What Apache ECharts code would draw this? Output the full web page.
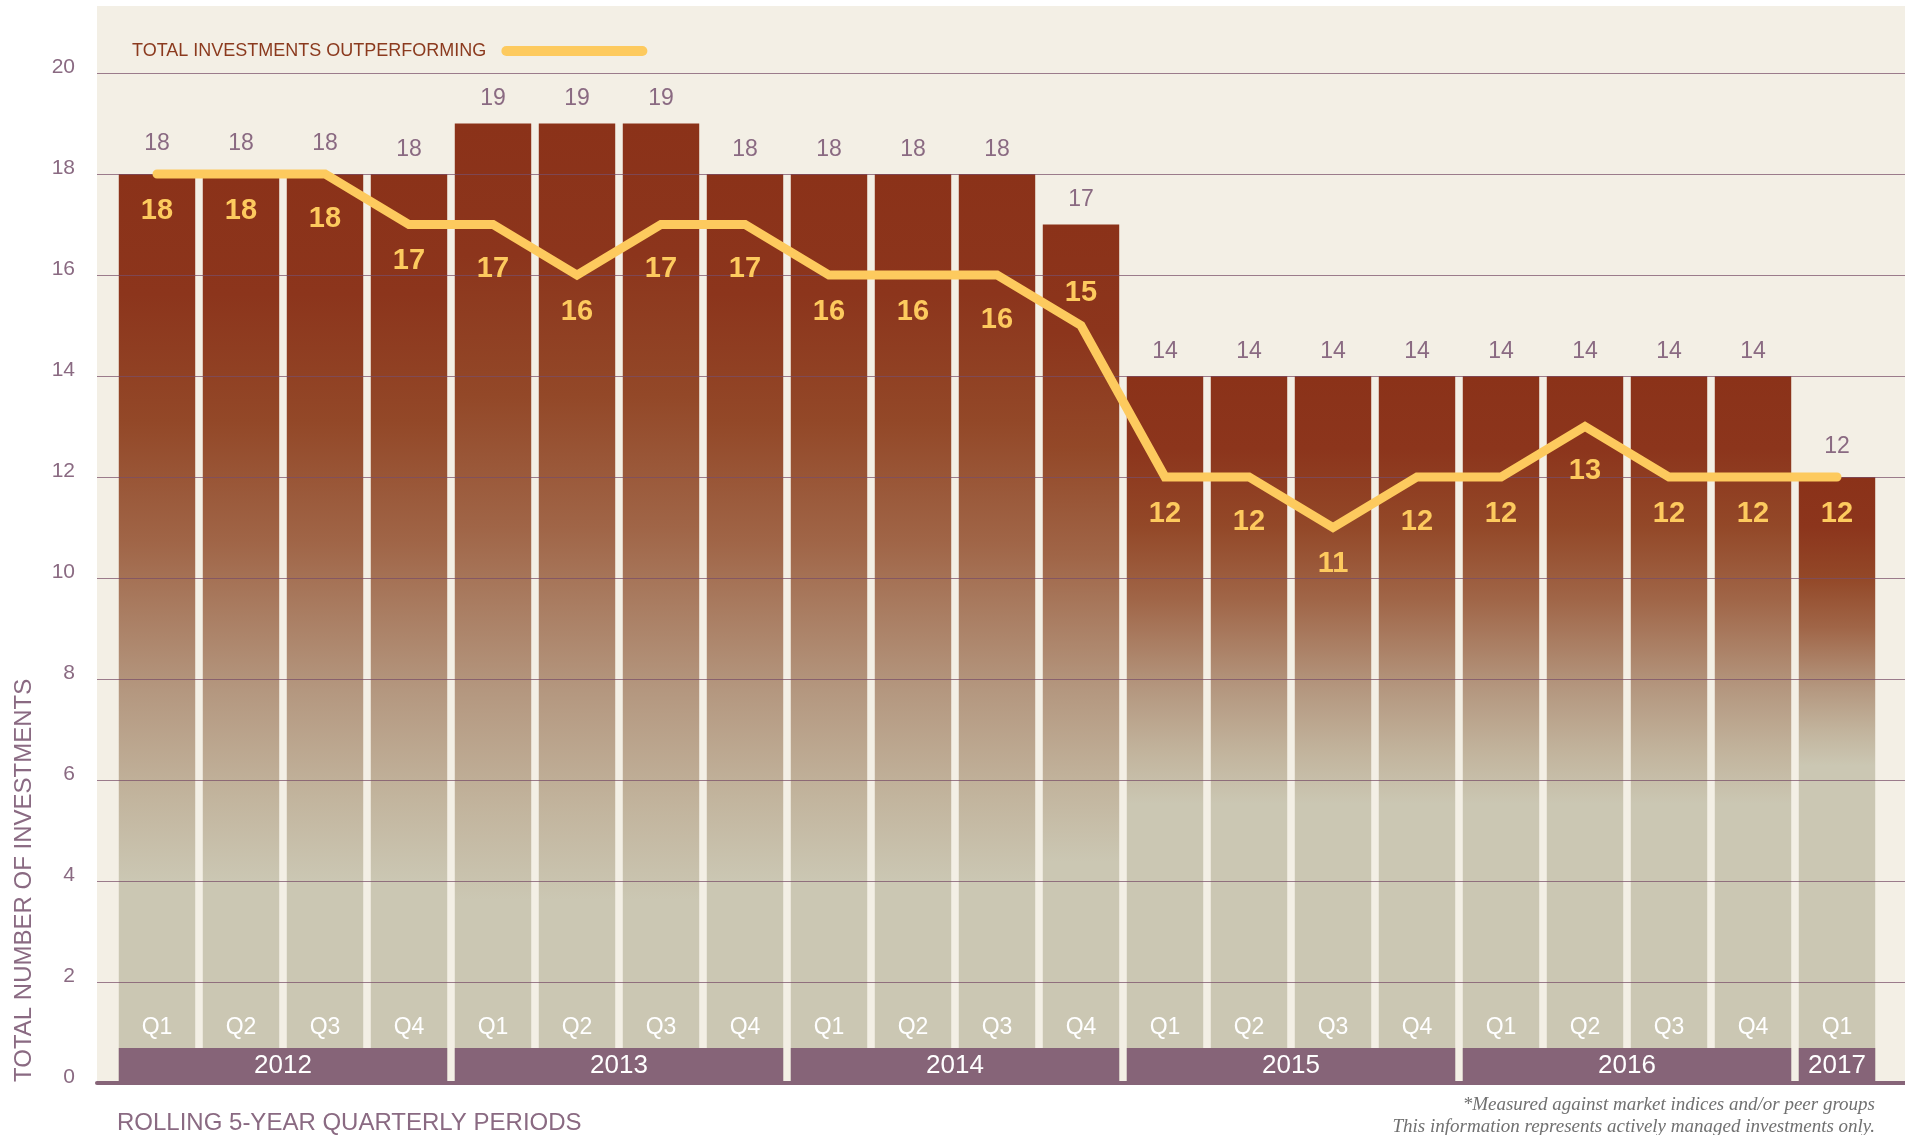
<!DOCTYPE html>
<html>
<head>
<meta charset="utf-8">
<script src="https://cdn.jsdelivr.net/npm/echarts@6/dist/echarts.min.js"></script>
<style>
html,body{margin:0;padding:0;background:#ffffff;}
#chart{width:1905px;height:1135px;}
</style>
</head>
<body>
<div id="chart"></div>
<script>
// ---------------- DATA ----------------
const quarterLabels = ['Q1','Q2','Q3','Q4','Q1','Q2','Q3','Q4','Q1','Q2','Q3','Q4','Q1','Q2','Q3','Q4','Q1','Q2','Q3','Q4','Q1'];
const periodYears = ['2012','2012','2012','2012','2013','2013','2013','2013','2014','2014','2014','2014','2015','2015','2015','2015','2016','2016','2016','2016','2017'];
const totalInvestments = [18,18,18,18,19,19,19,18,18,18,18,17,14,14,14,14,14,14,14,14,12];
const outperforming = [18,18,18,17,17,16,17,17,16,16,16,15,12,12,11,12,12,13,12,12,12];
const yAxisMin = 0;
const yAxisMax = 20;
const yAxisInterval = 2;

const seriesLineName = 'TOTAL INVESTMENTS OUTPERFORMING';
const yAxisTitle = 'TOTAL NUMBER OF INVESTMENTS';
const xAxisTitle = 'ROLLING 5-YEAR QUARTERLY PERIODS';
const footnote1 = '*Measured against market indices and/or peer groups';
const footnote2 = 'This information represents actively managed investments only.';

// ---------------- STYLE ----------------
const FONT = '"Liberation Sans", Arial, Helvetica, sans-serif';
const SERIF = '"Liberation Serif", "DejaVu Serif", serif';
const MAUVE = '#8a6a82';
const PURPLE = '#866478';
const CREAM = '#f3efe5';
const YELLOW = '#fdca5e';
const RUST_TEXT = '#8b3a1e';
const BEIGE = '#cbc7b3';
const GAP_RATIO = 0.09;

function barGradient(v) {
  const beigeAt = 4 + 0.38 * (18 - v);
  const span = (v - beigeAt) / v;
  const stops = [
    [0, '#8b3219'], [0.17, '#8c351c'], [0.35, '#934828'], [0.52, '#a06547'],
    [0.73, '#b4977f'], [0.88, '#c2b49d'], [1, BEIGE]
  ];
  const cs = stops.map(s => ({ offset: s[0] * span, color: s[1] }));
  cs.push({ offset: 1, color: BEIGE });
  return new echarts.graphic.LinearGradient(0, 0, 0, 1, cs);
}

function lineLabel(i) {
  const v = outperforming[i];
  const prev = i > 0 ? outperforming[i - 1] : v;
  const next = i < outperforming.length - 1 ? outperforming[i + 1] : v;
  if (next <= v - 2) return { position: 'top', distance: 17 };
  if (prev < v || next < v) return { position: 'bottom', distance: 29 };
  return { position: 'bottom', distance: 21 };
}

// year groups from periodYears
const yearGroups = [];
periodYears.forEach((y, i) => {
  const g = yearGroups[yearGroups.length - 1];
  if (g && g.year === y) g.end = i; else yearGroups.push({ start: i, end: i, year: y });
});

const chart = echarts.init(document.getElementById('chart'), null, { renderer: 'canvas' });

const option = {
  animation: false,
  backgroundColor: '#ffffff',
  textStyle: { fontFamily: FONT },
  graphic: {
    elements: [
      { type: 'rect', z: -100, silent: true, shape: { x: 97, y: 6, width: 1808, height: 1077 }, style: { fill: CREAM } },
      { type: 'text', silent: true, x: 24, y: 1082, rotation: Math.PI / 2,
        style: { text: yAxisTitle, fill: MAUVE, fontSize: 24, fontFamily: FONT, align: 'left', verticalAlign: 'middle' } },
      { type: 'text', silent: true, x: 117, y: 1123,
        style: { text: xAxisTitle, fill: MAUVE, fontSize: 24, fontFamily: FONT, align: 'left', verticalAlign: 'middle' } },
      { type: 'text', silent: true, x: 1875, y: 1105,
        style: { text: footnote1, fill: '#707070', fontSize: 19, fontStyle: 'italic', fontFamily: SERIF, align: 'right', verticalAlign: 'middle' } },
      { type: 'text', silent: true, x: 1875, y: 1127,
        style: { text: footnote2, fill: '#707070', fontSize: 19, fontStyle: 'italic', fontFamily: SERIF, align: 'right', verticalAlign: 'middle' } }
    ]
  },
  legend: {
    data: [{ name: seriesLineName, icon: 'path://M5 0 L141 0 A5 5 0 0 1 141 10 L5 10 A5 5 0 0 1 5 0 Z' }],
    left: 127,
    top: 37,
    align: 'right',
    itemWidth: 146,
    itemHeight: 10,
    selectedMode: false,
    textStyle: { color: RUST_TEXT, fontSize: 18, fontFamily: FONT, padding: [0, 10, 0, 0] }
  },
  grid: [
    { left: 115, right: 26, top: 73, bottom: 52 },
    { left: 97, right: 0, top: 73, bottom: 52 }
  ],
  xAxis: [
    {
      type: 'category', gridIndex: 0, data: quarterLabels, z: 5,
      axisLine: { show: false }, axisTick: { show: false }, splitLine: { show: false },
      axisLabel: { inside: true, margin: 44, color: '#ffffff', fontSize: 23, fontFamily: FONT }
    },
    {
      type: 'value', gridIndex: 1, min: 0, max: 1, z: 4,
      axisLabel: { show: false }, axisTick: { show: false }, splitLine: { show: false },
      axisLine: { show: true, lineStyle: { color: PURPLE, width: 4 } }
    }
  ],
  yAxis: [
    {
      type: 'value', gridIndex: 0, min: yAxisMin, max: yAxisMax, interval: yAxisInterval, show: false
    },
    {
      type: 'value', gridIndex: 1, min: yAxisMin, max: yAxisMax, interval: yAxisInterval, z: 3,
      axisLine: { show: false }, axisTick: { show: false },
      axisLabel: { color: MAUVE, fontSize: 21, margin: 22, fontFamily: FONT, verticalAlign: 'bottom', lineHeight: 12 },
      splitLine: { show: true, lineStyle: { color: 'rgba(120,78,104,0.72)', width: 1 } }
    }
  ],
  series: [
    {
      type: 'bar',
      name: yAxisTitle,
      xAxisIndex: 0, yAxisIndex: 0,
      barCategoryGap: (GAP_RATIO * 100) + '%',
      z: 2,
      data: totalInvestments.map((v, i) => ({
        value: v,
        itemStyle: { color: barGradient(v) },
        label: { distance: outperforming[i] === v ? 19 : 13 }
      })),
      label: { show: true, position: 'top', color: MAUVE, fontSize: 23, fontFamily: FONT }
    },
    {
      type: 'custom',
      name: 'years',
      xAxisIndex: 0, yAxisIndex: 0,
      z: 4,
      silent: true,
      data: yearGroups.map(g => [g.start, g.end]),
      renderItem: function (params, api) {
        const g = yearGroups[params.dataIndex];
        const p0 = api.coord([g.start, 0]);
        const p1 = api.coord([g.end, 0]);
        const bw = api.size([1, 0])[0] * (1 - GAP_RATIO);
        const x0 = p0[0] - bw / 2;
        const x1 = p1[0] + bw / 2;
        const yb = p0[1] - 2;
        return {
          type: 'group',
          children: [
            { type: 'rect', shape: { x: x0, y: yb - 33, width: x1 - x0, height: 33 }, style: { fill: PURPLE } },
            { type: 'text', x: (x0 + x1) / 2, y: yb - 15,
              style: { text: g.year, fill: '#ffffff', fontSize: 26, fontFamily: FONT, align: 'center', verticalAlign: 'middle' } }
          ]
        };
      }
    },
    {
      type: 'line',
      name: seriesLineName,
      xAxisIndex: 0, yAxisIndex: 0,
      z: 6,
      symbol: 'circle',
      symbolSize: 2,
      itemStyle: { color: YELLOW },
      lineStyle: { color: YELLOW, width: 9, cap: 'round', join: 'miter' },
      data: outperforming.map((v, i) => ({ value: v, label: lineLabel(i) })),
      label: { show: true, color: YELLOW, fontSize: 29, fontWeight: 'bold', fontFamily: FONT }
    }
  ]
};

chart.setOption(option);
</script>
</body>
</html>
